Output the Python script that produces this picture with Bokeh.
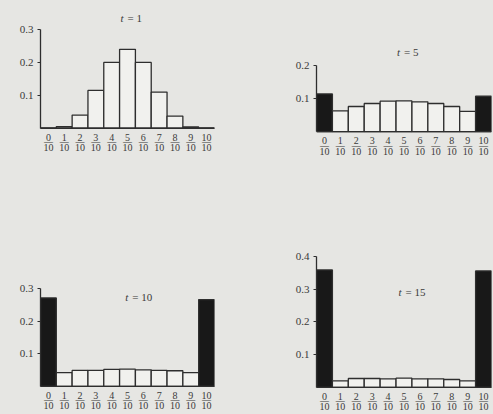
from bokeh.plotting import figure
from bokeh.layouts import row, column
from bokeh.models import Range1d, FixedTicker, Label, ColumnDataSource, Span
from bokeh.core.properties import value
from bokeh.embed import file_html
from bokeh.resources import INLINE

# Allele-frequency classes 0/10 ... 10/10
categories = list(range(11))
numerators = [str(i) for i in categories]
denominators = ["10"] * len(categories)

# Probability of each frequency class after t generations
t1_values = [0.001, 0.005, 0.040, 0.115, 0.200, 0.240, 0.200, 0.110, 0.037, 0.004, 0.001]
t5_values = [0.114, 0.063, 0.076, 0.085, 0.092, 0.093, 0.090, 0.085, 0.076, 0.061, 0.107]
t10_values = [0.271, 0.042, 0.049, 0.049, 0.052, 0.053, 0.051, 0.049, 0.048, 0.042, 0.266]
t15_values = [0.359, 0.020, 0.027, 0.027, 0.026, 0.028, 0.026, 0.026, 0.024, 0.020, 0.356]

t1_yticks = [0.1, 0.2, 0.3]
t5_yticks = [0.1, 0.2]
t10_yticks = [0.1, 0.2, 0.3]
t15_yticks = [0.1, 0.2, 0.3, 0.4]

BG = "#e6e6e3"
OPEN = "#f1f1ee"
DARK = "#181818"
INK = "#2e2e2e"
TEXT = "#3a3a3a"
SERIF = "Liberation Serif"


def panel(values, ymax, yrange, yticks, t_text, width, height, borders, title_pos):
    left, right, top, bottom = borders
    p = figure(width=width, height=height,
               x_range=Range1d(-0.5, 10.5), y_range=Range1d(*yrange),
               output_backend="svg", toolbar_location=None,
               min_border_left=left, min_border_right=right,
               min_border_top=top, min_border_bottom=bottom)
    p.background_fill_color = BG
    p.border_fill_color = BG
    p.outline_line_color = None
    p.xgrid.visible = False
    p.ygrid.visible = False
    p.xaxis.visible = False

    fills = [DARK if c in (0, 10) else OPEN for c in categories]
    src = ColumnDataSource(dict(x=categories, top=values, fill=fills,
                                num=numerators, den=denominators,
                                bar=["\u2015"] * len(categories)))
    p.vbar(x="x", top="top", bottom=0, width=1.0, source=src,
           fill_color="fill", line_color=INK, line_width=1.3)

    # baseline of the histogram
    p.add_layout(Span(location=0, dimension="width", line_color=INK, line_width=1.3))

    # fraction labels under each class: numerator / bar / denominator
    common = dict(x="x", y=0, source=src, text_align="center", text_baseline="middle",
                  text_font=value(SERIF), text_color=TEXT)
    p.text(text="num", y_offset=9, text_font_size="10px", **common)
    p.text(text="bar", y_offset=13, text_font_size="9px", **common)
    p.text(text="den", y_offset=19.5, text_font_size="10px", **common)

    ya = p.yaxis[0]
    ya.ticker = FixedTicker(ticks=yticks)
    ya.bounds = (0, ymax)
    ya.major_tick_out = 3
    ya.major_tick_in = 0
    ya.minor_tick_out = 0
    ya.minor_tick_in = 0
    ya.major_tick_line_color = INK
    ya.major_label_standoff = 4
    ya.major_label_text_font = SERIF
    ya.major_label_text_font_size = "11px"
    ya.major_label_text_color = TEXT
    ya.axis_line_color = INK
    ya.axis_line_width = 1.3

    tx, ty = title_pos
    p.add_layout(Label(x=tx, y=ty, text="t", text_align="right", text_baseline="middle",
                       x_offset=-4, text_font=SERIF, text_font_style="italic",
                       text_font_size="11px", text_color=TEXT))
    p.add_layout(Label(x=tx, y=ty, text="= " + t_text, text_align="left",
                       text_baseline="middle", x_offset=0, text_font=SERIF,
                       text_font_size="11px", text_color=TEXT))
    return p


p1 = panel(t1_values, 0.3, (-0.098, 0.370), t1_yticks, "1", 250, 220, (40, 32, 6, 60), (5.0, 0.336))
p2 = panel(t5_values, 0.2, (-0.118, 0.276), t5_yticks, "5", 243, 220, (66, 0, 40, 50), (5.0, 0.240))
p3 = panel(t10_values, 0.3, (-0.086, 0.3), t10_yticks, "10", 250, 194, (37, 36, 68, 0), (5.3, 0.273))
p4 = panel(t15_values, 0.4, (-0.083, 0.4), t15_yticks, "15", 243, 194, (63, 2, 36, 0), (5.1, 0.290))

left_col = column(p1, p3)
right_col = column(p2, p4)
layout = row(left_col, right_col)
for box in (left_col, right_col, layout):
    box.spacing = 0
    box.styles = {"background-color": BG}

open("out.html", "w").write(file_html(layout, INLINE))
